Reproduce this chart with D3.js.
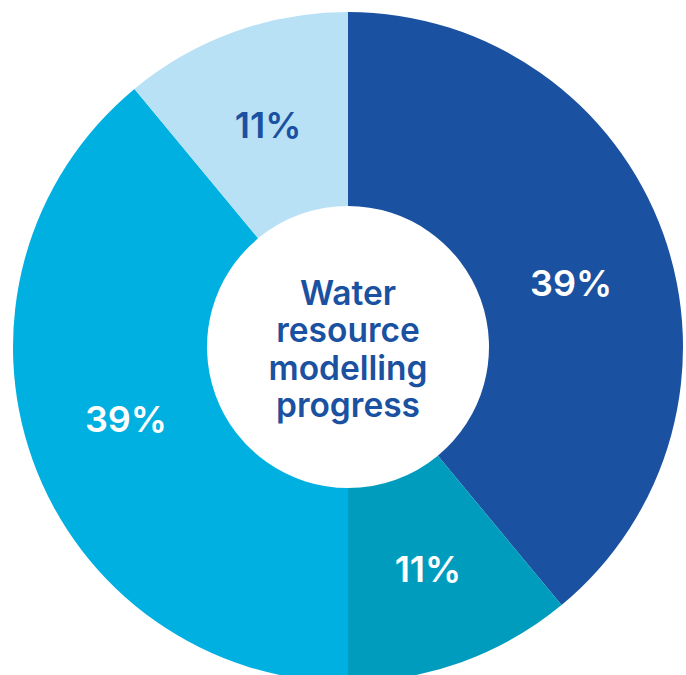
<!DOCTYPE html>
<html>
<head>
<meta charset="utf-8">
<script src="https://cdn.jsdelivr.net/npm/d3@7"></script>
<style>
  html, body { margin: 0; padding: 0; background: #fff; }
  svg { display: block; }
</style>
</head>
<body>
<svg id="chart" width="686" height="675"></svg>
<script>
// Data
const categories = ["Dark blue", "Teal", "Blue", "Light blue"];
const values = [39, 11, 39, 11];
const labels = ["39%", "11%", "39%", "11%"];
const colors = ["#1B51A1", "#009CBD", "#00B0E1", "#B9E1F6"];
const labelColors = ["#ffffff", "#ffffff", "#ffffff", "#1B51A1"];
const centerLines = ["Water", "resource", "modelling", "progress"];

// Layout (styling, not data)
const labelNudge = [[1, 16], [0, 0], [0, -8], [0, 0]];

const svg = d3.select("#chart");
const cx = 348, cy = 347, outerR = 335, innerR = 141;
const g = svg.append("g").attr("transform", `translate(${cx},${cy})`);

const pie = d3.pie().value(d => d).sort(null);
const arcs = pie(values);
const arc = d3.arc().innerRadius(innerR).outerRadius(outerR);
const labelArc = d3.arc().innerRadius(236).outerRadius(236);

g.selectAll("path.slice")
  .data(arcs)
  .join("path")
  .attr("class", "slice")
  .attr("d", arc)
  .attr("fill", (d, i) => colors[i]);

g.selectAll("text.lbl")
  .data(arcs)
  .join("text")
  .attr("class", "lbl")
  .attr("transform", (d, i) => {
    const c = labelArc.centroid(d);
    return `translate(${c[0] + labelNudge[i][0]},${c[1] + labelNudge[i][1]})`;
  })
  .attr("text-anchor", "middle")
  .attr("dy", "0.36em")
  .attr("font-family", "Inter, 'Open Sans', sans-serif")
  .attr("font-weight", 600)
  .attr("font-size", 36)
  .attr("fill", (d, i) => labelColors[i])
  .text((d, i) => labels[i]);

const lineH = 37.3;
g.selectAll("text.center")
  .data(centerLines)
  .join("text")
  .attr("class", "center")
  .attr("text-anchor", "middle")
  .attr("x", 0)
  .attr("y", (d, i) => -42 + i * lineH)
  .attr("font-family", "Inter, 'Open Sans', sans-serif")
  .attr("font-weight", 600)
  .attr("font-size", 33.5)
  .attr("fill", "#1B51A1")
  .text(d => d);
</script>
</body>
</html>
